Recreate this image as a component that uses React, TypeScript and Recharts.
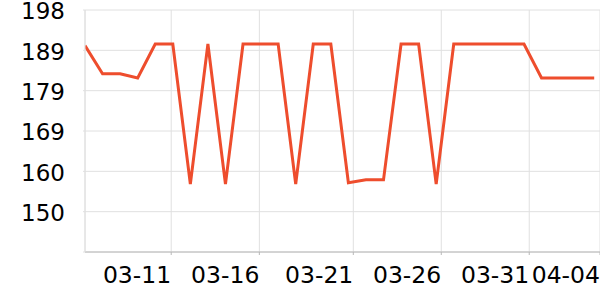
import React from 'react';
import { LineChart, Line, XAxis, YAxis, CartesianGrid } from 'recharts';

const dates = [
  '03-06', '03-07', '03-08', '03-09', '03-10', '03-11', '03-12', '03-13', '03-14', '03-15',
  '03-16', '03-17', '03-18', '03-19', '03-20', '03-21', '03-22', '03-23', '03-24', '03-25',
  '03-26', '03-27', '03-28', '03-29', '03-30', '03-31', '04-01', '04-02', '04-03', '04-04',
];
const values = [
  189.6, 183, 183, 182, 190, 190, 157, 190, 157, 190,
  190, 190, 157, 190, 190, 157.3, 158, 158, 190, 190,
  157, 190, 190, 190, 190, 190, 182, 182, 182, 182,
];
const xTickValues = [4.91, 9.93, 15.28, 20.29, 25.3, 29.33];
const xTickLabels = ['03-11', '03-16', '03-21', '03-26', '03-31', '04-04'];
const yTickValues = [141, 150.5, 160, 169.5, 179, 188.5, 198];
const yTickLabels = ['', '150', '160', '169', '179', '189', '198'];

const data = dates.map((d, i) => ({ idx: i, date: d, value: values[i] }));

const FONT = 'DejaVu Sans';

const XTick = (props: any) => {
  const { x, y, payload } = props;
  const i = xTickValues.indexOf(payload.value);
  return (
    <text x={x} y={y} dy="0.71em" textAnchor="end" fill="#000" fontFamily={FONT} fontSize={23.5}>
      {i >= 0 ? xTickLabels[i] : ''}
    </text>
  );
};

const YTick = (props: any) => {
  const { x, y, payload } = props;
  const i = yTickValues.indexOf(payload.value);
  return (
    <text x={x} y={y} dy="0.41em" textAnchor="end" fill="#000" fontFamily={FONT} fontSize={23}>
      {i >= 0 ? yTickLabels[i] : ''}
    </text>
  );
};

export default function App() {
  return (
    <div style={{ position: 'absolute', left: 0, top: 0, width: 600, height: 300, background: '#fff' }}>
      <LineChart width={600} height={300} data={data} margin={{ top: 10, right: 0, left: 0, bottom: 0 }}>
        <CartesianGrid stroke="#e0e0e0" strokeWidth={1} />
        <XAxis
          dataKey="idx"
          type="number"
          domain={[0, 29.33]}
          ticks={xTickValues}
          interval={0}
          height={48}
          axisLine={{ stroke: '#b8b8b8' }}
          tickLine={{ stroke: '#b8b8b8' }}
          tickSize={3}
          tickMargin={11}
          tick={<XTick />}
          allowDataOverflow
        />
        <YAxis
          type="number"
          domain={[141, 198]}
          ticks={yTickValues}
          interval={0}
          width={85}
          axisLine={{ stroke: '#e0e0e0' }}
          tickLine={{ stroke: '#e0e0e0' }}
          tickSize={2}
          tickMargin={18}
          tick={<YTick />}
          allowDataOverflow
        />
        <Line
          type="linear"
          dataKey="value"
          stroke="#ee4d2d"
          strokeWidth={3}
          dot={false}
          isAnimationActive={false}
        />
      </LineChart>
    </div>
  );
}
